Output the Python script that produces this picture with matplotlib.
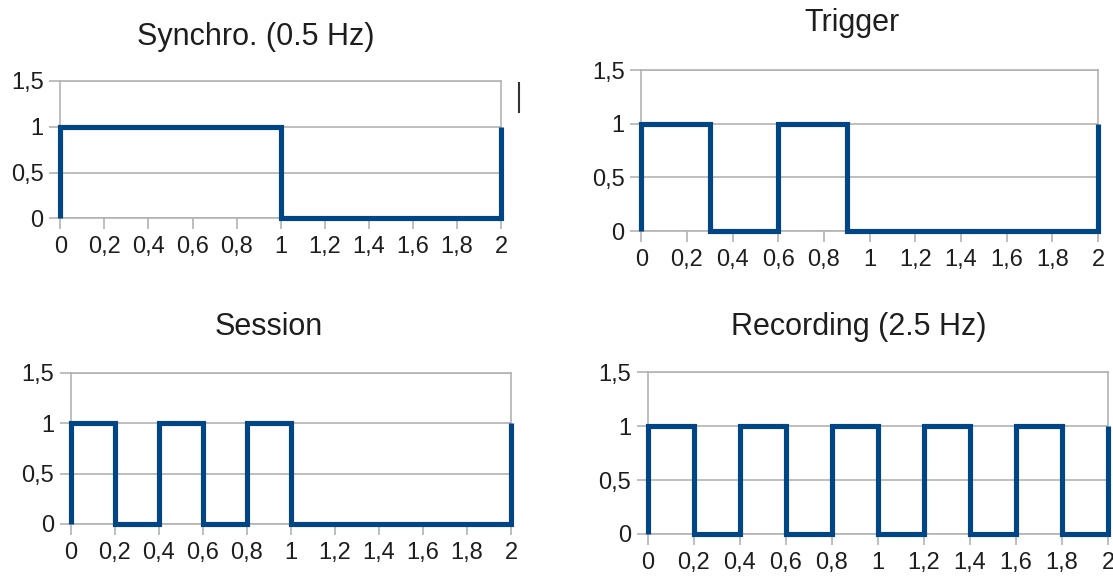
import matplotlib
matplotlib.use("Agg")
import matplotlib.pyplot as plt
from matplotlib.lines import Line2D

plt.rcParams['font.family'] = ['Liberation Sans', 'DejaVu Sans']

W, H = 1113, 576

# ---- data (corner points of each square wave) ----
titles = ["Synchro. (0.5 Hz)", "Trigger", "Session", "Recording (2.5 Hz)"]

synchro_x = [0, 0, 1, 1, 2, 2]
synchro_y = [0, 1, 1, 0, 0, 1]

trigger_x = [0, 0, 0.3, 0.3, 0.6, 0.6, 0.9, 0.9, 2, 2]
trigger_y = [0, 1, 1, 0, 0, 1, 1, 0, 0, 1]

session_x = [0, 0, 0.2, 0.2, 0.4, 0.4, 0.6, 0.6, 0.8, 0.8, 1.0, 1.0, 2, 2]
session_y = [0, 1, 1, 0, 0, 1, 1, 0, 0, 1, 1, 0, 0, 1]

recording_x = [0, 0, 0.2, 0.2, 0.4, 0.4, 0.6, 0.6, 0.8, 0.8, 1.0, 1.0,
               1.2, 1.2, 1.4, 1.4, 1.6, 1.6, 1.8, 1.8, 2, 2]
recording_y = [0, 1, 1, 0, 0, 1, 1, 0, 0, 1, 1, 0,
               0, 1, 1, 0, 0, 1, 1, 0, 0, 1]

x_ticks = [0, 0.2, 0.4, 0.6, 0.8, 1, 1.2, 1.4, 1.6, 1.8, 2]
x_labels = ["0", "0,2", "0,4", "0,6", "0,8", "1", "1,2", "1,4", "1,6", "1,8", "2"]
y_ticks = [0, 0.5, 1, 1.5]
y_labels = ["0", "0,5", "1", "1,5"]

series = [(synchro_x, synchro_y), (trigger_x, trigger_y),
          (session_x, session_y), (recording_x, recording_y)]

# ---- layout (pixel boxes: left, right, top, bottom) ----
boxes = [(60.3, 501, 81, 218.3),
         (641.3, 1098, 70.3, 231),
         (70.7, 511, 372.7, 524),
         (648, 1108, 372.3, 534)]
title_pos = [(256, 37), (852, 23), (269, 327), (859, 327)]

LINE = "#004586"
GRID = "#b3b3b3"
TXT = "#1e1e1e"

fig = plt.figure(figsize=(W / 100, H / 100), dpi=100)
fig.patch.set_facecolor("white")

for (xs, ys), (l, r, t, b), title, (tx, ty) in zip(series, boxes, titles, title_pos):
    ax = fig.add_axes([l / W, 1 - b / H, (r - l) / W, (b - t) / H])
    ax.plot(xs, ys, color=LINE, lw=3.7, solid_joinstyle="miter",
            solid_capstyle="butt", clip_on=False, zorder=5)
    ax.set_xlim(0, 2)
    ax.set_ylim(0, 1.5)
    ax.set_xticks(x_ticks)
    ax.set_xticklabels(x_labels)
    ax.set_yticks(y_ticks)
    ax.set_yticklabels(y_labels)
    ax.yaxis.grid(True, color=GRID, lw=1.2)
    ax.xaxis.grid(False)
    for s in ax.spines.values():
        s.set_color(GRID)
        s.set_linewidth(1.2)
    ax.tick_params(axis="x", direction="out", length=8, width=1.2,
                   color=GRID, labelsize=17, labelcolor=TXT, pad=5)
    ax.tick_params(axis="y", direction="out", length=8, width=1.2,
                   color=GRID, labelsize=17, labelcolor=TXT, pad=4)
    fig.text(tx / W, 1 - ty / H, title, ha="center", va="center",
             fontsize=22, color=TXT)

# small cursor mark seen in the reference
fig.add_artist(Line2D([518.6 / W, 518.6 / W], [1 - 83 / H, 1 - 112 / H],
                      color="#333333", lw=1.5))

fig.savefig("out.png", dpi=100, facecolor="white")
